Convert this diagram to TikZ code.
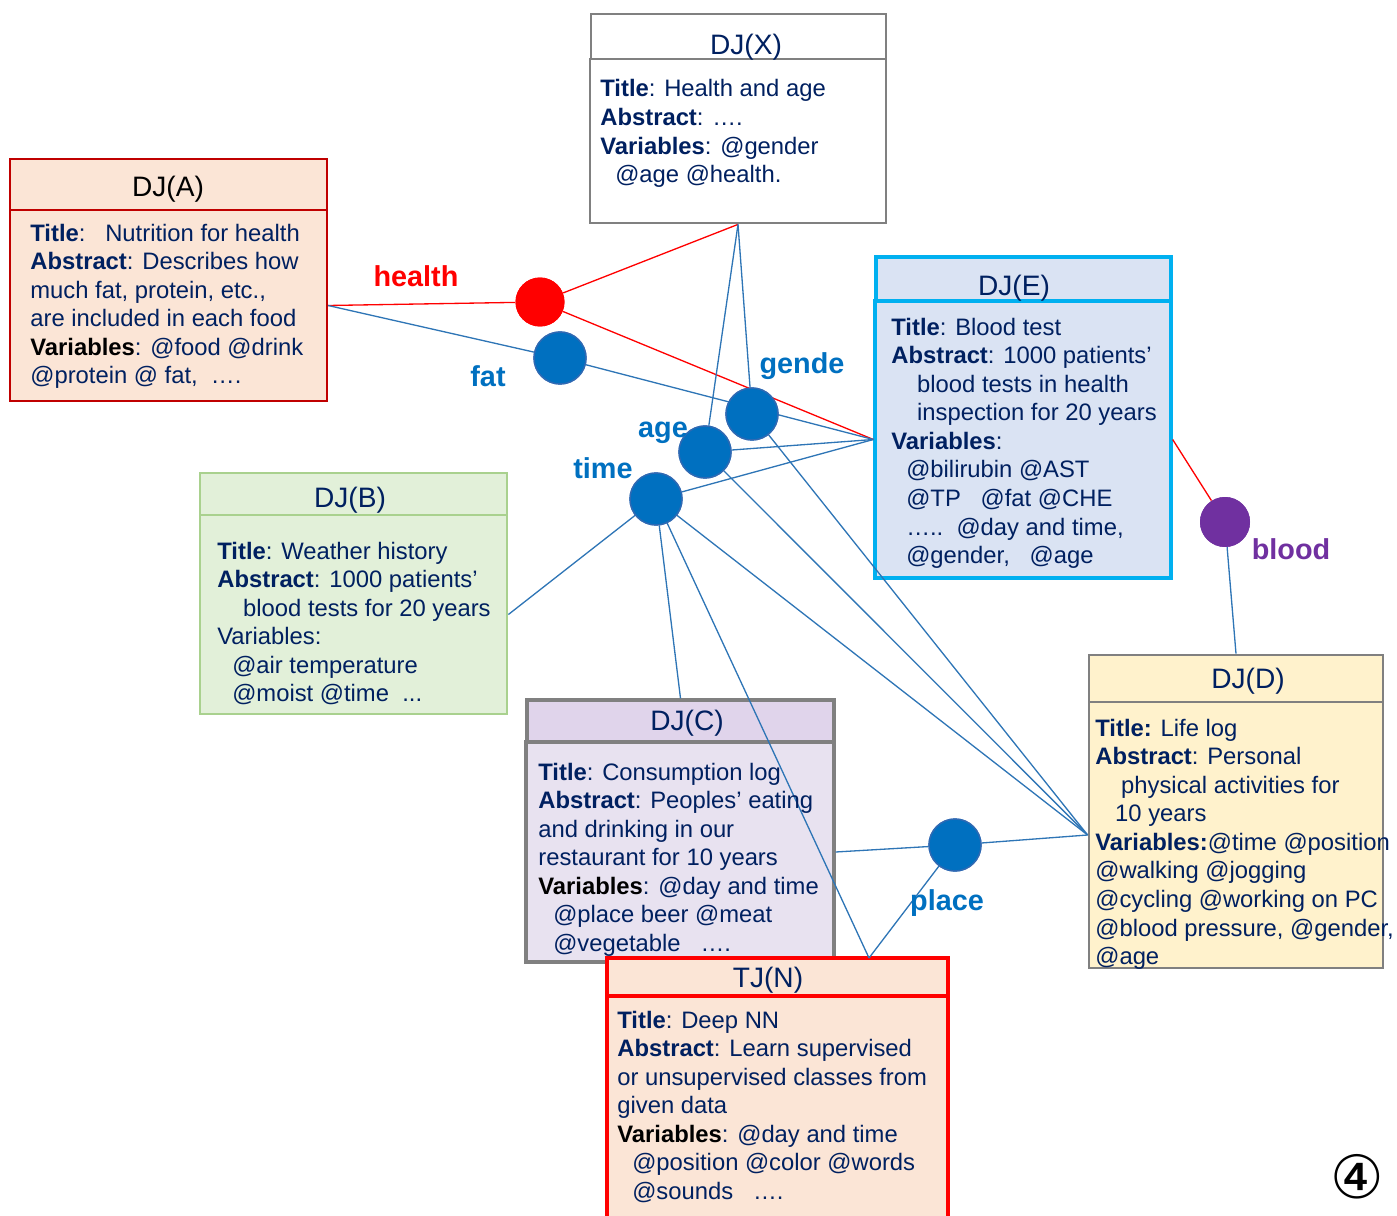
\documentclass[tikz,border=0pt]{standalone}
\usepackage{fontspec}
\setmainfont{Liberation Sans}
\newfontfamily\symbolfont{DejaVu Sans}
\usetikzlibrary{fit}

\definecolor{navy}{HTML}{002060}
\definecolor{linkblue}{HTML}{2E75B6}
\definecolor{varblue}{HTML}{0070C0}
\definecolor{varedge}{HTML}{2F69B3}
\definecolor{varpurple}{HTML}{7030A0}
\definecolor{peach}{HTML}{FBE5D6}
\definecolor{darkred}{HTML}{C00000}
\definecolor{paleblue}{HTML}{DAE3F3}
\definecolor{cyanedge}{HTML}{00B0F0}
\definecolor{palegreen}{HTML}{E2F0D9}
\definecolor{greenedge}{HTML}{A9D18E}
\definecolor{lilachead}{HTML}{E0D4EB}
\definecolor{lilac}{HTML}{E8E2F0}
\definecolor{cream}{HTML}{FFF2CC}
\definecolor{boxgray}{HTML}{808080}

\newcommand\field[1]{\textbf{#1}}
\newcommand\blackfield[1]{\textbf{\color{black}#1}}

\tikzset{
  panel/.style={inner sep=0pt, line width=1.6pt},
  head/.style={font=\fontsize{16}{19}\selectfont, text=navy, inner sep=0pt},
  body/.style={anchor=north west, inner sep=0pt, align=left,
               font=\fontsize{13.55}{16.27}\selectfont, text=navy},
  tag/.style={font=\fontsize{16.4}{19}\selectfont\bfseries, inner sep=0pt},
  var/.style={circle, minimum size=1.04cm, inner sep=0pt, fill=varblue, draw=varedge, line width=0.8pt},
  hotvar/.style={circle, minimum size=0.98cm, inner sep=0pt, fill=red},
  bloodvar/.style={circle, minimum size=1.0cm, inner sep=0pt, fill=varpurple},
  link/.style={linkblue, line width=0.75pt},
  redlink/.style={red, line width=0.75pt},
}

\begin{document}
\begin{tikzpicture}[x=0.02cm,y=-0.02cm]
\useasboundingbox (0,0) rectangle (1397,1216);

% ---- data jackets: header and body panels ----
\node[panel, draw=boxgray, fill=white, fit={(591,14)(886,59)}] (Xh) {};
\node[panel, draw=boxgray, fill=white, fit={(590,59)(886,223)}] (Xb) {};

\node[panel, line width=1.2pt, draw=darkred, fill=peach, fit={(10,159)(327,210)}] (Ah) {};
\node[panel, line width=1.2pt, draw=darkred, fill=peach, fit={(10,210)(327,401)}] (Ab) {};

\node[panel, line width=1.9pt, draw=cyanedge, fill=paleblue, fit={(876,257)(1171,301)}] (Eh) {};
\node[panel, line width=1.9pt, draw=cyanedge, fill=paleblue, fit={(875,301)(1171,578)}] (Eb) {};

\node[panel, draw=greenedge, fill=palegreen, fit={(200,473)(507,515)}] (Bh) {};
\node[panel, draw=greenedge, fill=palegreen, fit={(200,515)(507,714)}] (Bb) {};

\node[panel, line width=1.9pt, draw=boxgray, fill=lilachead, fit={(527,700)(834,742)}] (Ch) {};
\node[panel, line width=1.9pt, draw=boxgray, fill=lilac, fit={(526,742)(834,962)}] (Cb) {};

\node[panel, draw=boxgray, fill=cream, fit={(1089,655)(1383,702)}] (Dh) {};
\node[panel, draw=boxgray, fill=cream, fit={(1089,702)(1383,968)}] (Db) {};

\node[panel, line width=1.9pt, draw=red, fill=peach, fit={(607,958)(948,996)}] (Nh) {};
\node[panel, line width=1.9pt, draw=red, fill=peach, fit={(607,996)(948,1224)}] (Nb) {};
\coordinate (Ntop) at (869,958);

% ---- shared-variable nodes ----
\node[hotvar] (health) at (540,302) {};
\node[var] (fat) at (560,358) {};
\node[var] (gende) at (752,414) {};
\node[var] (age) at (705,452) {};
\node[var] (time) at (656,499) {};
\node[var] (place) at (955,845) {};
\node[bloodvar] (blood) at (1225,522) {};

% ---- links ----
\draw[redlink] (Ab.east) -- (health);
\draw[redlink] (health) -- (Xb.south);
\draw[redlink] (health) -- (Eb.west);
\draw[link] (Ab.east) -- (fat);
\draw[link] (fat) -- (Eb.west);
\draw[link] (Xb.south) -- (gende);
\draw[link] (Xb.south) -- (age);
\draw[link] (age) -- (Eb.west);
\draw[link] (time) -- (Eb.west);
\draw[link] (gende) -- (Db.west);
\draw[link] (age) -- (Db.west);
\draw[link] (time) -- (Db.west);
\draw[link] (time) -- (Bb.east);
\draw[link] (time) -- (Ch.north);
\draw[link] (time) -- (Ntop);
\draw[link] (Cb.east) -- (place);
\draw[link] (place) -- (Db.west);
\draw[link] (place) -- (Ntop);
\draw[redlink] (Eb.east) -- (blood);
\draw[link] (blood) -- (Dh.north);

% redraw the variable discs over the links
\node[hotvar] at (health) {};
\node[var] at (fat) {};
\node[var] at (gende) {};
\node[var] at (age) {};
\node[var] at (time) {};
\node[var] at (place) {};
\node[bloodvar] at (blood) {};

% ---- variable labels ----
\node[tag, text=red] (healthlbl) at (416,276) {health};
\node[tag, text=varblue] (fatlbl) at (488,376) {fat};
\node[tag, text=varblue] (gendelbl) at (802,366) {gende};
\node[tag, text=varblue] (agelbl) at (663,433) {age};
\node[tag, text=varblue] (timelbl) at (603,468) {time};
\node[tag, text=varblue] (placelbl) at (947,903) {place};
\node[tag, text=varpurple] (bloodlbl) at (1291,549) {blood};

% ---- header titles ----
\node[head] (Xt) at (746,47) {DJ(X)};
\node[head, text=black] (At) at (168,189) {DJ(A)};
\node[head] (Et) at (1014,288) {DJ(E)};
\node[head] (Bt) at (350,500) {DJ(B)};
\node[head] (Ct) at (687,723) {DJ(C)};
\node[head] (Dt) at (1248,681) {DJ(D)};
\node[head] (Nt) at (768,980) {TJ(N)};

% ---- body texts ----
\node[body] (Xtext) at (600,79.4) {%
\field{Title}: Health and age\\
\field{Abstract}: ….\\
\field{Variables}: @gender\\
\hspace*{8.5pt}@age @health.};

\node[body] (Atext) at (30,223.4) {%
\field{Title}:\ \ \ Nutrition for health\\
\field{Abstract}: Describes how\\
much fat, protein, etc.,\\
are included in each food\\
\blackfield{Variables}: @food @drink\\
@protein @ fat,\ \ ….};

\node[body] (Etext) at (891,317.4) {%
\field{Title}: Blood test\\
\field{Abstract}: 1000 patients’\\
\hspace*{14.7pt}blood tests in health\\
\hspace*{14.7pt}inspection for 20 years\\
\field{Variables}:\\
\hspace*{8.5pt}@bilirubin @AST\\
\hspace*{8.5pt}@TP\ \ \ @fat @CHE\\
\hspace*{8.5pt}…..\ \ @day and time,\\
\hspace*{8.5pt}@gender,\ \ \ @age};

\node[body] (Btext) at (217,541.4) {%
\field{Title}: Weather history\\
\field{Abstract}: 1000 patients’\\
\hspace*{14.7pt}blood tests for 20 years\\
Variables:\\
\hspace*{8.5pt}@air temperature\\
\hspace*{8.5pt}@moist @time\ \ ...};

\node[body] (Ctext) at (538,762.4) {%
\field{Title}: Consumption log\\
\field{Abstract}: Peoples’ eating\\
and drinking in our\\
restaurant for 10 years\\
\blackfield{Variables}: @day and time\\
\hspace*{8.5pt}@place beer @meat\\
\hspace*{8.5pt}@vegetable\ \ \ ….};

\node[body] (Dtext) at (1095,718.4) {%
\field{Title:} Life log\\
\field{Abstract}: Personal\\
\hspace*{14.7pt}physical activities for\\
\hspace*{11.3pt}10 years\\
\field{Variables:}@time @position\\
@walking @jogging\\
@cycling @working on PC\\
@blood pressure, @gender,\\
@age};

\node[body] (Ntext) at (617,1010.4) {%
\field{Title}: Deep NN\\
\field{Abstract}: Learn supervised\\
or unsupervised classes from\\
given data\\
\blackfield{Variables}: @day and time\\
\hspace*{8.5pt}@position @color @words\\
\hspace*{8.5pt}@sounds\ \ \ ….};

% ---- slide number ----
\node[inner sep=0pt, font=\symbolfont\fontsize{34}{34}\selectfont] (slideno) at (1357,1177) {④};
\end{tikzpicture}
\end{document}
